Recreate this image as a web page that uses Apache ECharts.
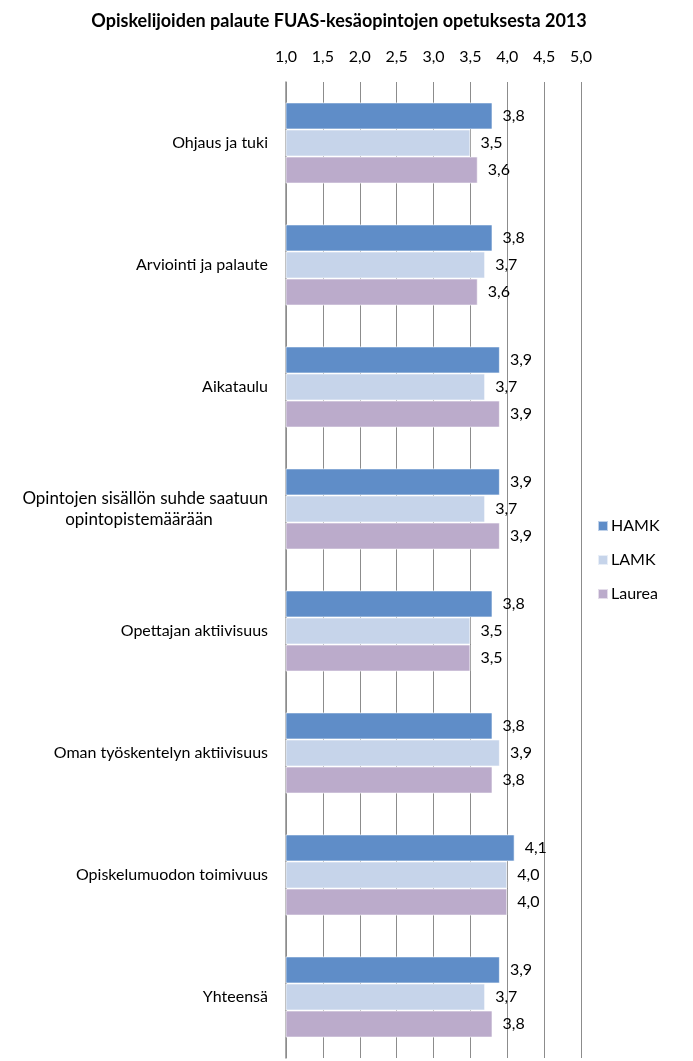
<!DOCTYPE html>
<html>
<head>
<meta charset="utf-8">
<script src="https://cdn.jsdelivr.net/npm/echarts@6/dist/echarts.min.js"></script>
<style>
html,body{margin:0;padding:0;background:#fff;}
#c{width:693px;height:1061px;}
</style>
</head>
<body>
<div id="c"></div>
<script>
const title = 'Opiskelijoiden palaute FUAS-kesäopintojen opetuksesta 2013';
const categories = ['Ohjaus ja tuki', 'Arviointi ja palaute', 'Aikataulu', 'Opintojen sisällön suhde saatuun opintopistemäärään', 'Opettajan aktiivisuus', 'Oman työskentelyn aktiivisuus', 'Opiskelumuodon toimivuus', 'Yhteensä'];
const seriesNames = ['HAMK', 'LAMK', 'Laurea'];
const hamk = [3.8, 3.8, 3.9, 3.9, 3.8, 3.8, 4.1, 3.9];
const lamk = [3.5, 3.7, 3.7, 3.7, 3.5, 3.9, 4.0, 3.7];
const laurea = [3.6, 3.6, 3.9, 3.9, 3.5, 3.8, 4.0, 3.8];
const colors = ['#5F8DC8', '#C6D4EA', '#BBABCB'];
const values = [hamk, lamk, laurea];

const FONT = 'Lato';
const FS = 16;
const fmt = v => v.toFixed(1).replace('.', ',');

const chart = echarts.init(document.getElementById('c'), null, {renderer: 'canvas'});
chart.setOption({
  animation: false,
  backgroundColor: '#fff',
  title: {
    text: title, left: 334, top: 7, textAlign: 'center',
    textStyle: {fontFamily: FONT, fontSize: 18, fontWeight: 'bold', color: '#000'}
  },
  legend: {
    orient: 'vertical', left: 592, top: 513,
    itemWidth: 10, itemHeight: 10, itemGap: 18, icon: 'rect',
    textStyle: {fontFamily: FONT, fontSize: FS, color: '#000', padding: [0, 0, 0, -2]},
    data: seriesNames
  },
  grid: {left: 286, right: 112, top: 82, bottom: 3, containLabel: false},
  xAxis: {
    type: 'value', position: 'top', min: 1, max: 5, interval: 0.5,
    axisLine: {show: false}, axisTick: {show: false},
    axisLabel: {formatter: v => fmt(v), fontFamily: FONT, fontSize: FS, color: '#000', margin: 17},
    splitLine: {show: true, lineStyle: {color: '#8C8C8C', width: 1}}
  },
  yAxis: {
    type: 'category', inverse: true, data: categories,
    axisLine: {show: true, lineStyle: {color: '#8C8C8C', width: 1.5}},
    axisTick: {show: false},
    axisLabel: {
      fontFamily: FONT, fontSize: FS, color: '#000', margin: 18, lineHeight: 21,
      formatter: function (v) {
        if (v.indexOf('opintopistemäärään') >= 0) {
          return '{a|Opintojen sisällön suhde saatuun}\n{b|opintopistemäärään}';
        }
        return v;
      },
      rich: {
        a: {fontFamily: FONT, fontSize: 17, color: '#000', lineHeight: 21},
        b: {fontFamily: FONT, fontSize: 17, color: '#000', lineHeight: 21, width: 258, align: 'center'}
      }
    }
  },
  series: seriesNames.map((n, i) => ({
    name: n, type: 'bar', data: values[i],
    barGap: '0%', barCategoryGap: '33.5%',
    itemStyle: {color: colors[i], borderColor: 'rgba(255,255,255,0.6)', borderWidth: 1},
    label: {
      show: true, position: 'right', distance: 10, formatter: p => fmt(p.value),
      fontFamily: FONT, fontSize: FS, color: '#000'
    }
  }))
});
</script>
</body>
</html>
